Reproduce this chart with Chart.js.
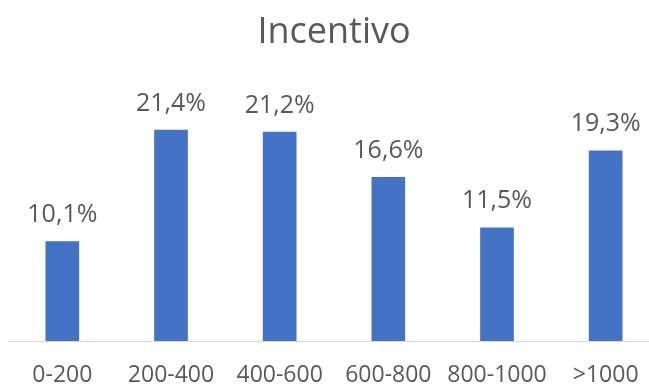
<!DOCTYPE html>
<html>
<head>
<meta charset="utf-8">
<script src="https://cdn.jsdelivr.net/npm/chart.js@4/dist/chart.umd.min.js"></script>
<style>
  html, body { margin: 0; padding: 0; background: #fff; overflow: hidden; }
  #wrap { width: 662px; height: 385px; }
</style>
</head>
<body>
<div id="wrap"><canvas id="chart" width="662" height="385"></canvas></div>
<script>
const TITLE = "Incentivo";
const categories = ["0-200", "200-400", "400-600", "600-800", "800-1000", ">1000"];
const shares = [10.1, 21.4, 21.2, 16.6, 11.5, 19.3];

const TEXT = "#595959";
const BAR = "#4472C4";
const FONT = "'Open Sans', 'Liberation Sans', sans-serif";

const fmtPct = (v) => v.toFixed(1).replace(".", ",") + "%";

// etiquetas encima de cada barra
const valueLabels = {
  id: "valueLabels",
  afterDatasetsDraw(chart) {
    const ctx = chart.ctx;
    const meta = chart.getDatasetMeta(0);
    ctx.save();
    ctx.font = "25px " + FONT;
    ctx.fillStyle = TEXT;
    ctx.textAlign = "center";
    ctx.textBaseline = "alphabetic";
    meta.data.forEach((bar, i) => {
      ctx.fillText(fmtPct(shares[i]), bar.x, bar.y - 19);
    });
    ctx.restore();
  }
};

new Chart(document.getElementById("chart"), {
  type: "bar",
  data: {
    labels: categories,
    datasets: [{
      label: TITLE,
      data: shares,
      backgroundColor: BAR,
      barPercentage: 0.31,
      categoryPercentage: 1
    }]
  },
  options: {
    responsive: false,
    devicePixelRatio: 1,
    animation: false,
    layout: { padding: { left: 8, right: 2, top: 0, bottom: -25 } },
    plugins: {
      legend: { display: false },
      tooltip: { enabled: false },
      title: {
        display: true,
        text: TITLE,
        color: TEXT,
        font: { family: FONT, size: 36, weight: "normal", lineHeight: 1.2 },
        padding: { top: 11, bottom: 40 }
      }
    },
    scales: {
      x: {
        grid: { display: false, drawTicks: false },
        border: { display: true, color: "#D9D9D9", width: 1 },
        ticks: {
          color: TEXT,
          padding: 23,
          maxRotation: 0,
          autoSkip: false,
          font: { family: FONT, size: 23, lineHeight: 1.0 }
        }
      },
      y: {
        display: false,
        min: 0,
        max: 25
      }
    }
  },
  plugins: [valueLabels]
});
</script>
</body>
</html>
